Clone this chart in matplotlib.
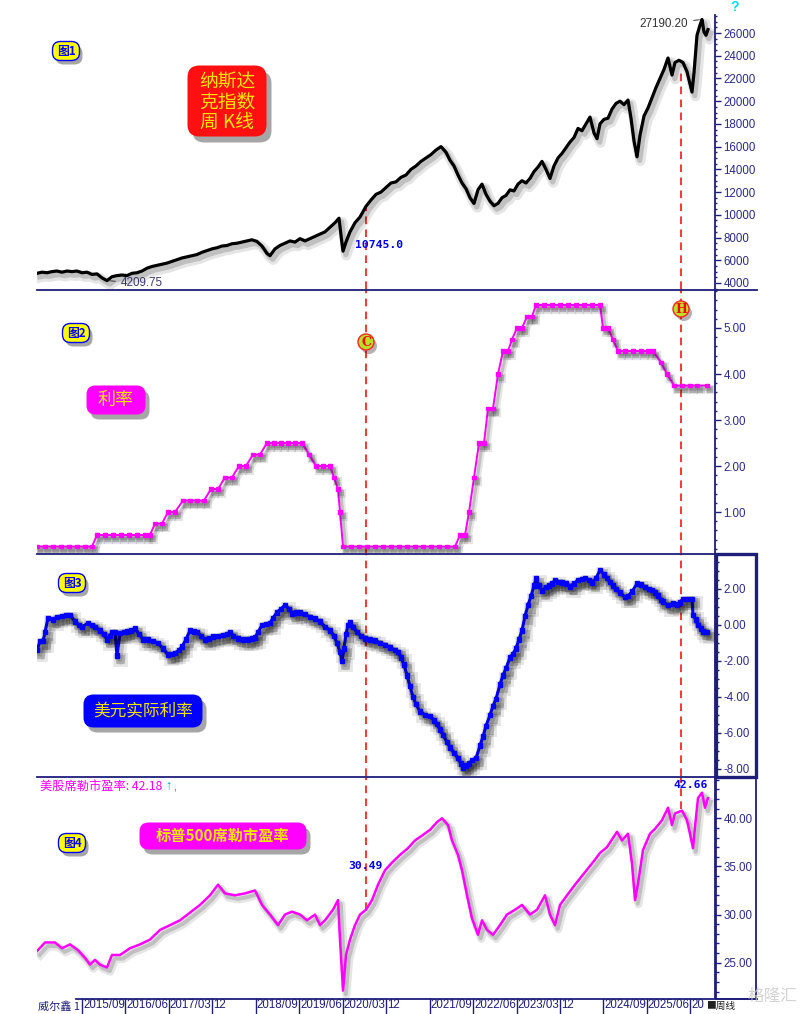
import matplotlib
matplotlib.use("Agg")
import matplotlib.pyplot as plt
import matplotlib.patheffects as pe
import matplotlib.transforms as mtrans
from matplotlib.patches import FancyBboxPatch, Rectangle, Circle
from matplotlib.lines import Line2D
from matplotlib.ticker import MultipleLocator, FormatStrFormatter
import numpy as np

# ---------------- data (bar = weekly bar index from left edge) ----------------
ndx_bar = [0, 5, 10, 15, 20, 25, 30, 35, 40, 45, 50, 55, 60, 65, 70, 75, 80, 85, 90, 95,
           100, 105, 110, 115, 120, 125, 130, 135, 140, 145, 150, 155, 160, 165, 170, 175,
           180, 185, 190, 195, 200, 205, 210, 215, 220, 225, 230, 233, 238, 243, 248, 253,
           258, 263, 268, 273, 278, 283, 288, 293, 298, 302, 304, 306, 309, 313, 318, 323,
           329, 334, 339, 344, 349, 354, 359, 364, 369, 374, 379, 384, 389, 394, 399, 404,
           409, 413, 417, 421, 425, 429, 433, 437, 441, 445, 449, 453, 457, 461, 465, 469,
           473, 477, 481, 485, 489, 493, 497, 501, 505, 509, 513, 517, 521, 525, 529, 533,
           537, 541, 545, 549, 553, 557, 560, 563, 567, 571, 575, 579, 583, 587, 591, 594,
           597, 600, 603, 607, 611, 615, 619, 623, 627, 631, 635, 638, 642, 646, 650, 653,
           655, 657, 660, 663, 665, 667, 669, 671]
ndx_close = [4850, 4950, 4900, 5000, 5050, 4950, 5050, 5000, 5050, 4900, 4950, 4750, 4800,
             4450, 4209.75, 4550, 4650, 4700, 4650, 4850, 4900, 5050, 5300, 5450, 5550, 5650,
             5750, 5900, 6050, 6200, 6300, 6400, 6500, 6700, 6850, 7000, 7100, 7250, 7300,
             7450, 7500, 7600, 7700, 7800, 7650, 7250, 6600, 6400, 7000, 7300, 7500, 7700,
             7600, 7900, 7700, 7900, 8100, 8300, 8500, 8900, 9300, 9700, 8200, 6800, 7600,
             8500, 9300, 9800, 10745, 11300, 11800, 12000, 12400, 12800, 12900, 13300, 13500,
             14000, 14300, 14700, 15000, 15300, 15700, 16000, 15500, 14800, 14300, 13500,
             12800, 12300, 11500, 11000, 12200, 12700, 11800, 11200, 10800, 11000, 11500,
             11700, 12200, 12100, 12700, 13000, 12800, 13200, 13800, 14200, 14700, 14000,
             13200, 14300, 15000, 15400, 15900, 16400, 16800, 17600, 17400, 18000, 18600,
             17200, 16700, 18000, 18400, 18500, 19300, 19800, 20000, 19700, 20100, 18500,
             16500, 15100, 17000, 18700, 19400, 20300, 21200, 22000, 22800, 23800, 22300,
             23400, 23600, 23400, 22600, 21500, 20800, 22500, 25800, 26700, 27190.20, 26100,
             25800, 26300]

rate_bar = [0, 8, 16, 24, 32, 40, 48, 55, 60, 68, 76, 84, 92, 100, 108, 113, 118, 125, 131,
            138, 146, 153, 160, 167, 174, 181, 188, 195, 202, 209, 216, 223, 230, 237, 244,
            251, 258, 265, 272, 279, 286, 293, 297, 301, 303, 306, 314, 322, 330, 338, 346,
            354, 362, 370, 378, 386, 394, 402, 410, 418, 423, 428, 432, 437, 442, 447, 451,
            456, 461, 466, 471, 475, 480, 485, 490, 495, 499, 507, 515, 523, 531, 539, 547,
            555, 563, 566, 571, 576, 581, 588, 596, 604, 611, 616, 624, 630, 637, 645, 653,
            660, 670]
rate_val = [0.25, 0.25, 0.25, 0.25, 0.25, 0.25, 0.25, 0.25, 0.50, 0.50, 0.50, 0.50, 0.50,
            0.50, 0.50, 0.50, 0.75, 0.75, 1.00, 1.00, 1.25, 1.25, 1.25, 1.25, 1.50, 1.50,
            1.75, 1.75, 2.00, 2.00, 2.25, 2.25, 2.50, 2.50, 2.50, 2.50, 2.50, 2.50, 2.25,
            2.00, 2.00, 2.00, 1.75, 1.50, 1.00, 0.25, 0.25, 0.25, 0.25, 0.25, 0.25, 0.25,
            0.25, 0.25, 0.25, 0.25, 0.25, 0.25, 0.25, 0.25, 0.50, 0.50, 1.00, 1.75, 2.50,
            2.50, 3.25, 3.25, 4.00, 4.50, 4.50, 4.75, 5.00, 5.00, 5.25, 5.25, 5.50, 5.50,
            5.50, 5.50, 5.50, 5.50, 5.50, 5.50, 5.50, 5.00, 5.00, 4.75, 4.50, 4.50, 4.50,
            4.50, 4.50, 4.50, 4.25, 4.00, 3.75, 3.75, 3.75, 3.75, 3.75]

real_bar = [0, 3, 6, 8, 11, 16, 20, 25, 29, 33, 38, 42, 45, 51, 55, 58, 63, 67, 70, 73, 75,
            78, 80, 83, 87, 90, 94, 98, 102, 106, 111, 116, 121, 126, 131, 135, 138, 142, 145,
            149, 153, 157, 160, 164, 168, 172, 176, 181, 186, 190, 193, 196, 201, 206, 211,
            215, 218, 221, 225, 229, 233, 236, 240, 244, 248, 252, 255, 259, 263, 268, 273,
            278, 283, 288, 293, 297, 300, 303, 305, 307, 309, 311, 313, 316, 320, 324, 328,
            333, 338, 343, 348, 353, 358, 361, 364, 367, 370, 373, 376, 379, 383, 388, 393,
            397, 400, 403, 406, 410, 413, 417, 421, 424, 426, 429, 432, 435, 439, 443, 446,
            449, 453, 456, 459, 463, 466, 469, 473, 476, 479, 482, 485, 488, 491, 494, 497,
            499, 502, 505, 509, 512, 515, 518, 521, 525, 529, 533, 537, 541, 545, 548, 552,
            555, 559, 563, 567, 570, 573, 576, 579, 583, 588, 591, 595, 600, 604, 608, 612,
            615, 618, 621, 624, 626, 631, 636, 640, 643, 646, 650, 655, 656, 659, 661, 664,
            666, 670]
real_val = [-1.4, -0.9, -0.9, -0.4, 0.4, 0.3, 0.45, 0.5, 0.55, 0.55, 0.2, 0.0, -0.1, 0.1,
            0.0, -0.1, -0.3, -0.5, -0.8, -0.6, -0.4, -0.4, -1.7, -0.45, -0.4, -0.35, -0.3,
            -0.2, -0.5, -0.8, -0.8, -0.9, -1.0, -1.3, -1.65, -1.6, -1.55, -1.4, -1.2, -0.8,
            -0.3, -0.35, -0.4, -0.6, -0.8, -0.75, -0.65, -0.6, -0.55, -0.5, -0.4, -0.6,
            -0.75, -0.8, -0.8, -0.75, -0.7, -0.4, 0.0, 0.05, 0.1, 0.4, 0.7, 0.9, 1.1, 0.9,
            0.65, 0.7, 0.7, 0.6, 0.45, 0.35, 0.2, -0.1, -0.3, -0.6, -1.0, -1.5, -2.0, -1.3,
            -0.5, 0.0, 0.15, -0.1, -0.4, -0.6, -0.75, -0.8, -0.85, -1.0, -1.1, -1.25, -1.4,
            -1.5, -1.8, -2.2, -2.8, -3.4, -4.0, -4.4, -4.8, -5.0, -5.05, -5.3, -5.5, -5.8,
            -6.1, -6.5, -6.8, -7.1, -7.4, -7.7, -7.95, -7.8, -7.7, -7.5, -7.4, -6.7, -6.2,
            -5.6, -5.0, -4.5, -4.1, -3.3, -2.8, -2.4, -1.8, -1.6, -1.3, -0.8, -0.3, 0.5,
            1.1, 1.6, 2.2, 2.6, 2.2, 1.9, 2.1, 2.2, 2.3, 2.5, 2.4, 2.35, 2.3, 2.15, 2.3,
            2.5, 2.55, 2.6, 2.5, 2.35, 2.6, 3.05, 2.8, 2.6, 2.4, 2.2, 2.0, 1.8, 1.55, 1.6,
            1.85, 2.3, 2.25, 2.1, 2.0, 1.95, 1.8, 1.65, 1.4, 1.3, 1.1, 1.2, 1.15, 1.25,
            1.45, 1.45, 1.45, 0.55, 0.3, 0.0, -0.2, -0.35, -0.4]

cape_bar = [0, 8, 18, 25, 33, 41, 48, 53, 58, 63, 70, 75, 83, 93, 103, 113, 123, 133, 143,
            153, 163, 173, 181, 188, 198, 208, 218, 225, 233, 241, 248, 255, 263, 270, 278,
            283, 288, 296, 301, 303, 306, 309, 313, 318, 323, 329, 335, 341, 348, 355, 363,
            371, 378, 385, 393, 400, 405, 411, 415, 421, 425, 430, 435, 441, 445, 450, 456,
            463, 470, 478, 485, 493, 500, 508, 513, 518, 523, 530, 538, 548, 558, 563, 570,
            580, 585, 591, 595, 598, 601, 606, 613, 618, 625, 631, 635, 638, 645, 650, 653,
            656, 658, 661, 665, 668, 671]
cape_val = [26.2, 27.1, 27.1, 26.5, 26.9, 26.3, 25.5, 24.8, 25.3, 24.8, 24.5, 25.8, 25.8,
            26.5, 26.9, 27.4, 28.4, 28.9, 29.4, 30.2, 31.0, 32.0, 33.1, 32.2, 32.0, 32.2,
            32.5, 31.0, 30.0, 28.9, 30.0, 30.3, 30.0, 29.4, 30.0, 28.9, 29.4, 30.5, 31.5,
            27.4, 22.1, 25.8, 27.4, 28.9, 30.0, 30.49, 31.5, 33.1, 34.6, 35.4, 36.2, 36.9,
            37.7, 38.2, 38.8, 39.6, 40.0, 39.3, 37.7, 36.2, 34.6, 32.0, 29.6, 27.9, 29.4,
            28.4, 27.9, 28.9, 30.0, 30.5, 31.0, 30.0, 30.5, 32.0, 30.0, 28.9, 31.0, 32.0,
            33.1, 34.4, 35.7, 36.4, 37.0, 38.6, 37.7, 38.4, 35.3, 31.5, 33.2, 36.7, 38.4,
            38.9, 39.8, 41.1, 39.3, 40.5, 40.8, 39.8, 38.4, 36.9, 39.1, 42.1, 42.66, 41.1,
            42.1]

x_labels = ['2015/09', '2016/06', '2017/03', '12', '2018/09', '2019/06', '2020/03', '12',
            '2021/09', '2022/06', '2023/03', '12', '2024/09', '2025/06', '20']
c_bar, h_bar = 329, 644
ndx_c_value, ndx_h_value = 10745.0, 22600
cape_c_value, cape_h_value = 30.49, 41.0
cape_max = 42.66
cape_last = 42.18

# ---------------- layout ----------------
W, H = 808, 1014
fig = plt.figure(figsize=(W / 100, H / 100), dpi=100)
fig.patch.set_facecolor('white')
NAVY = '#1f1f7a'
TICKC = '#2a2a8a'
CJK = ['Noto Sans CJK SC', 'DejaVu Sans']
plt.rcParams['font.family'] = ['Liberation Sans', 'Noto Sans CJK SC', 'DejaVu Sans']

L, R = 37, 715
panels = [(15, 289), (290, 553), (554, 776), (777, 998)]
ylims = [(3470, 27585), (0.109, 5.826), (-8.389, 3.944), (21.33, 44.29)]
XMAX = R - L
axes = []
for (top, bot), yl in zip(panels, ylims):
    ax = fig.add_axes([L / W, 1 - bot / H, (R - L) / W, (bot - top) / H])
    ax.set_xlim(0, XMAX)
    ax.set_ylim(*yl)
    ax.patch.set_alpha(0)
    for s in ['left', 'top', 'bottom']:
        ax.spines[s].set_visible(False)
    ax.spines['right'].set_color(NAVY)
    ax.spines['right'].set_linewidth(1.3)
    ax.yaxis.tick_right()
    ax.tick_params(axis='y', which='major', direction='out', length=4, width=1,
                   color=NAVY, labelcolor=TICKC, labelsize=8.3, pad=2)
    ax.tick_params(axis='y', which='minor', direction='out', length=1.2, width=1, color=NAVY)
    ax.set_xticks([])
    axes.append(ax)
ax1, ax2, ax3, ax4 = axes

ax1.yaxis.set_major_locator(MultipleLocator(2000))
ax1.yaxis.set_minor_locator(MultipleLocator(500))
ax2.yaxis.set_major_locator(MultipleLocator(1))
ax2.yaxis.set_minor_locator(MultipleLocator(0.2))
ax3.yaxis.set_major_locator(MultipleLocator(2))
ax3.yaxis.set_minor_locator(MultipleLocator(0.5))
ax4.yaxis.set_major_locator(MultipleLocator(5))
ax4.yaxis.set_minor_locator(MultipleLocator(1))
ax1.set_yticks(np.arange(4000, 26001, 2000))
ax1.yaxis.set_major_formatter(FormatStrFormatter('%d'))
ax2.set_yticks([1, 2, 3, 4, 5])
for a in (ax2, ax3, ax4):
    a.yaxis.set_major_formatter(FormatStrFormatter('%.2f'))
ax3.tick_params(axis='y', which='minor', length=3)
ax4.tick_params(axis='y', which='minor', length=3)


def shadow(lw):
    return [pe.SimpleLineShadow(offset=(2.4, -3.0), shadow_color='#000000', alpha=0.10,
                                linewidth=lw * 3.2),
            pe.SimpleLineShadow(offset=(2.0, -2.6), shadow_color='#000000', alpha=0.16,
                                linewidth=lw * 1.6),
            pe.Normal()]


ax1.plot(ndx_bar, ndx_close, color='black', lw=2.3, path_effects=shadow(2.3), zorder=3)
ax2.plot(rate_bar, rate_val, color='#ff00ff', lw=1.4, marker='s', ms=2.4,
         path_effects=shadow(1.4), zorder=3)
ax3.plot(real_bar, real_val, color='#0000ff', lw=2.2, marker='s', ms=3.2,
         path_effects=shadow(2.2), zorder=3)
ax4.plot(cape_bar, cape_val, color='#ff00ff', lw=1.8, path_effects=shadow(1.8), zorder=3)

# red dashed vertical marker lines
def frac(ax, v):
    lo, hi = ax.get_ylim()
    return (v - lo) / (hi - lo)

dash = dict(color='#ff0000', lw=1.1, linestyle=(0, (5, 3.5)), zorder=2)
for b, v1, v4 in [(c_bar, ndx_c_value, cape_c_value), (h_bar, ndx_h_value, cape_h_value)]:
    ax1.axvline(b, 0, frac(ax1, v1), **dash)
    ax2.axvline(b, 0, 1, **dash)
    ax3.axvline(b, 0, 1, **dash)
    ax4.axvline(b, frac(ax4, v4), 1, **dash)

# max / min annotations on the index
imax = int(np.argmax(ndx_close))
imin = int(np.argmin(ndx_close))
ax1.annotate(f'{ndx_close[imax]:.2f}', xy=(ndx_bar[imax], ndx_close[imax]),
             xytext=(-10, -3), textcoords='offset points', ha='right', va='center',
             fontsize=8.4, color='#333333',
             arrowprops=dict(arrowstyle='-', lw=0.7, color='#333333'))
ax1.annotate(f'{ndx_close[imin]:.2f}', xy=(ndx_bar[imin], ndx_close[imin]),
             xytext=(10, -2), textcoords='offset points', ha='left', va='center',
             fontsize=8.4, color='#3a3a6a',
             arrowprops=dict(arrowstyle='-', lw=0.7, color='#333333'))

# x-axis labels at bottom
first_tick, tick_step = 45, 43.45
tick_pos = [first_tick + i * tick_step for i in range(len(x_labels))]
ax4.set_xticks(tick_pos)
ax4.set_xticklabels([])
ax4.tick_params(axis='x', direction='out', length=11.5, width=1, color=NAVY)
btr = mtrans.blended_transform_factory(ax4.transData, ax4.transAxes)
for p, lab in zip(tick_pos, x_labels):
    ax4.text(p + 1, -0.033, lab, transform=btr, ha='left', va='center', fontsize=8.3,
             color=NAVY, clip_on=False)

# ---------------- overlay (pixel coordinates) ----------------
ov = fig.add_axes([0, 0, 1, 1], zorder=10)
ov.set_xlim(0, W)
ov.set_ylim(H, 0)
ov.axis('off')
ov.patch.set_alpha(0)

# separators
for y, x0, x1, lw in [(289.5, 37, 757, 1.3), (553.5, 37, 716, 1.3), (776.5, 37, 716, 1.3),
                      (998.5, 76, 757, 1.3)]:
    ov.add_line(Line2D([x0, x1], [y, y], color=NAVY, lw=lw))
ov.add_patch(Rectangle((716, 554), 40, 222.5, fill=False, ec=NAVY, lw=2.4))
ov.add_patch(Rectangle((716, 777), 40, 221.5, fill=False, ec=NAVY, lw=1.3))


def box(cx, cy, w, h, fc, r, ec='none', lw=0, sh=(4, 5)):
    if sh:
        ov.add_patch(FancyBboxPatch((cx - w / 2 + sh[0], cy - h / 2 + sh[1]), w, h,
                                    boxstyle=f'round,pad=0,rounding_size={r}',
                                    fc='#000000', ec='none', alpha=0.35))
    ov.add_patch(FancyBboxPatch((cx - w / 2, cy - h / 2), w, h,
                                boxstyle=f'round,pad=0,rounding_size={r}',
                                fc=fc, ec=ec, lw=lw))


# figure badges
for (cx, cy), lab in zip([(66, 51), (76, 333), (72, 583), (72, 843)], ['图1', '图2', '图3', '图4']):
    box(cx, cy, 27, 19, '#ffff00', 8, ec='#0000ff', lw=1.0, sh=(3, 4))
    ov.text(cx, cy, lab, ha='center', va='center', fontsize=8.5, fontweight='bold',
            color='#0000ff', family=CJK)

# title boxes
YEL = '#f2e600'
box(227, 101, 79, 71, '#ff1010', 12, sh=(5, 6))
ov.text(227, 102, '纳斯达\n克指数\n周 K线', ha='center', va='center', fontsize=13.5,
        color=YEL, family=CJK, linespacing=0.95)
box(116, 400, 59, 29, '#ff00ff', 9, sh=(4, 5))
ov.text(116, 400, '利率', ha='center', va='center', fontsize=13, color=YEL, family=CJK)
box(143, 711, 119, 33, '#0000ff', 10, sh=(4, 5))
ov.text(143, 711, '美元实际利率', ha='center', va='center', fontsize=12, color=YEL, family=CJK)
box(223, 836, 167, 27, '#ff00ff', 9, sh=(4, 5))
ov.text(223, 836, '标普500席勒市盈率', ha='center', va='center', fontsize=11, color=YEL,
        family=CJK, fontweight='bold')

# C / H markers
for (cx, cy), lab in [((366, 342), 'C'), ((681, 309), 'H')]:
    ov.add_patch(Circle((cx + 3, cy + 4), 8, fc='#000000', ec='none', alpha=0.3))
    ov.add_patch(Circle((cx, cy), 8, fc='#b8e02a', ec='#ff2020', lw=1.0))
    ov.text(cx, cy + 0.5, lab, ha='center', va='center', fontsize=9, fontweight='bold',
            color='#ff0000', family='DejaVu Serif')

# value labels
mono = dict(family='DejaVu Sans Mono', fontweight='bold', color='#0000ee', fontsize=8.2,
            va='center', ha='left')
ov.text(355, 245, f'{ndx_c_value:.1f}', **mono)
ov.text(673, 785, f'{cape_max:.2f}', **mono)
ov.text(348, 866, f'{cape_c_value:.2f}', **mono)

# panel 4 header
ov.text(40, 786, f'美股席勒市盈率: {cape_last:.2f}', ha='left', va='center', fontsize=8.8,
        color='#ff00ff', family=CJK)
ov.text(168, 785, '↑', ha='center', va='center', fontsize=9, color='#0099bb')
ov.text(175, 788, ',', ha='center', va='center', fontsize=8, color='#ff00ff')

ov.text(735, 7, '?', ha='center', va='center', fontsize=10, fontweight='bold', color='#00e0f0')

# bottom left / right text
ov.text(38, 1006, '威尔鑫 1', ha='left', va='center', fontsize=8, color=NAVY, family=CJK)
ov.text(706, 1006, '■周线', ha='left', va='center', fontsize=7.0, color='#222222', family=CJK)
ov.text(772, 996, '格隆汇', ha='center', va='center', fontsize=12, color='#c8c8c8',
        family=CJK, alpha=0.8)

fig.savefig('out.png', dpi=100, facecolor='white')
